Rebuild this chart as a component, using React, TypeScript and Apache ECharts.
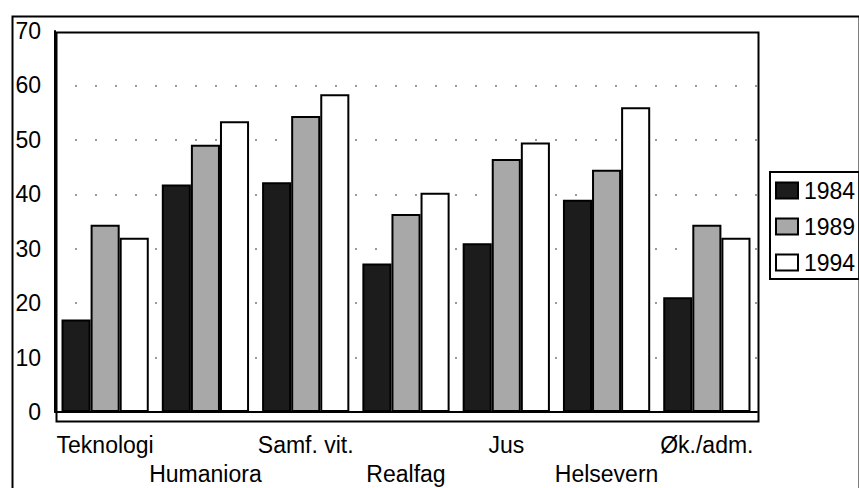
import React, { useEffect, useRef } from "react";
import * as echarts from "echarts";

const categories = ["Teknologi", "Humaniora", "Samf. vit.", "Realfag", "Jus", "Helsevern", "Øk./adm."];
const seriesNames = ["1984", "1989", "1994"];
const values1984 = [17, 41.8, 42.2, 27.3, 31, 39, 21.1];
const values1989 = [34.4, 49.1, 54.4, 36.4, 46.5, 44.5, 34.4];
const values1994 = [32, 53.4, 58.4, 40.3, 49.5, 56, 32];
const yTicks = [0, 10, 20, 30, 40, 50, 60, 70];

const FONT = "'Liberation Sans', Arial, Helvetica, sans-serif";

export default function App() {
  const ref = useRef<HTMLDivElement>(null);
  useEffect(() => {
    document.body.style.margin = "0";
    const chart = echarts.init(ref.current!, null, { renderer: "svg" });
    const fills = ["#1c1c1c", "#a8a8a8", "#ffffff"];
    const data = [values1984, values1989, values1994];
    const G = { left: 55, top: 31, right: 102, bottom: 68 };
    chart.setOption({
      animation: false,
      backgroundColor: "#ffffff",
      textStyle: { fontFamily: FONT },
      grid: { ...G, show: false },
      legend: {
        orient: "vertical",
        left: 770,
        top: 172,
        data: seriesNames,
        icon: "rect",
        itemWidth: 22,
        itemHeight: 16,
        itemGap: 13,
        padding: [7, 4, 5, 5],
        borderColor: "#000",
        borderWidth: 2,
        backgroundColor: "#fff",
        textStyle: { fontSize: 23, color: "#000", fontFamily: FONT, padding: [0, 0, 0, 1] },
      },
      xAxis: {
        type: "category",
        data: categories,
        axisLine: { show: true, lineStyle: { color: "#000", width: 2 } },
        axisTick: { show: false },
        axisLabel: {
          interval: 0,
          fontSize: 23,
          color: "#000",
          fontFamily: FONT,
          margin: 18,
          lineHeight: 29,
          formatter: (v: string, i: number) => (i % 2 === 1 ? "\n" + v : v),
        },
      },
      yAxis: {
        type: "value",
        min: yTicks[0],
        max: yTicks[yTicks.length - 1],
        interval: 10,
        axisLine: { show: true, lineStyle: { color: "#000", width: 2 } },
        axisTick: { show: false },
        axisLabel: { fontSize: 23, color: "#000", fontFamily: FONT, margin: 14 },
        splitLine: {
          show: true,
          showMinLine: false,
          showMaxLine: false,
          lineStyle: { color: "#9a9a9a", width: 2, type: [2, 18] },
        },
      },
      series: seriesNames.map((name, k) => ({
        name,
        type: "bar",
        data: data[k],
        barGap: "0%",
        barCategoryGap: "13%",
        itemStyle: { color: fills[k], borderColor: "#000", borderWidth: 2 },
      })),
      graphic: [
        {
          type: "rect",
          left: 10,
          top: 14,
          shape: { x: 0, y: 0, width: 847, height: 490 },
          style: { fill: "none", stroke: "#000", lineWidth: 2 },
          silent: true,
          z: -1,
        },
        {
          type: "rect",
          left: G.left - 1,
          top: G.top - 1,
          shape: { x: 0, y: 0, width: 859 - G.left - G.right, height: 488 - G.top - G.bottom },
          style: { fill: "none", stroke: "#000", lineWidth: 2 },
          silent: true,
          z: 10,
        },
      ],
    });
    return () => chart.dispose();
  }, []);
  return <div ref={ref} style={{ width: 859, height: 488 }} />;
}
